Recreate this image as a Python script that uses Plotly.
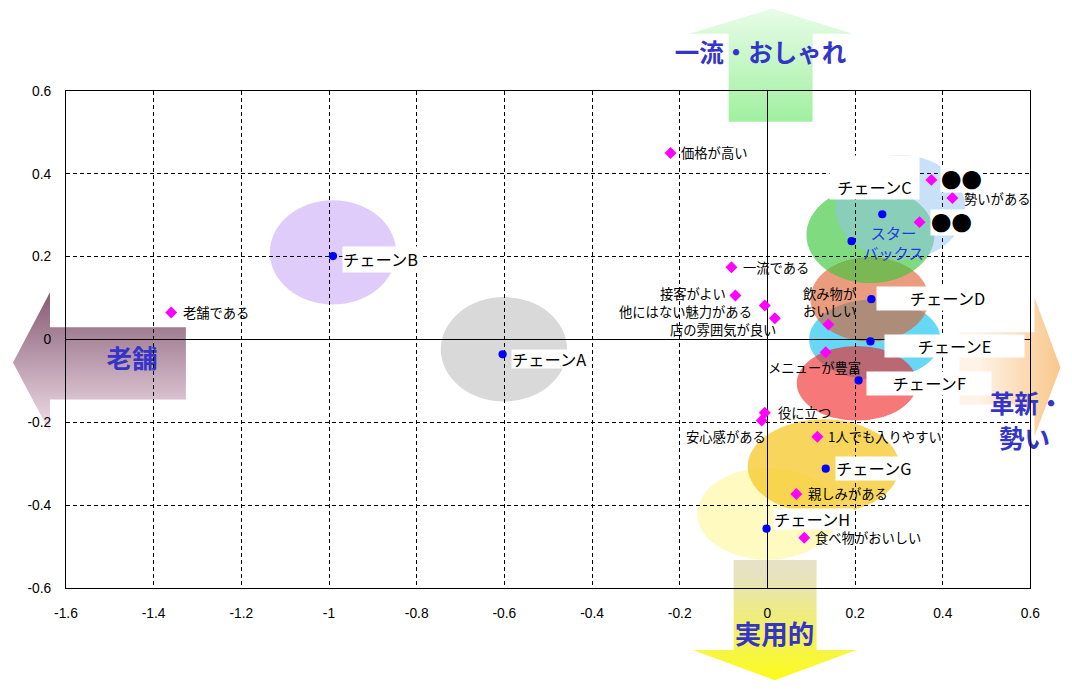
import plotly.graph_objects as go

# Picture size, and the page->picture mapping measured for this renderer:
# picture = offset + scale * page   (page body margin removed below)
IMG_W, IMG_H = 1072, 691
W, H = 1072, 691                 # figure (page) size
S_X, S_Y = 0.98, 0.976
O_X, O_Y = 12.0, 8.4
KX, KY = 1 / S_X, 1 / S_Y        # picture px -> page px for sizes

# ---------------- data ----------------
chain_names = ["チェーンA", "チェーンB", "チェーンC", "スターバックス", "チェーンD",
               "チェーンE", "チェーンF", "チェーンG", "チェーンH"]
chain_x = [-0.604, -0.991, 0.262, 0.192, 0.237, 0.235, 0.208, 0.133, -0.002]
chain_y = [-0.036, 0.201, 0.302, 0.237, 0.097, -0.005, -0.099, -0.312, -0.457]

attr_names = ["価格が高い", "老舗である", "一流である", "接客がよい", "他にはない魅力がある",
              "店の雰囲気が良い", "飲み物がおいしい", "メニューが豊富", "役に立つ", "安心感がある",
              "1人でも入りやすい", "親しみがある", "食べ物がおいしい", "勢いがある", "●●", "●●"]
attr_x = [-0.221, -1.360, -0.082, -0.073, -0.006, 0.017, 0.139, 0.133, -0.006, -0.013,
          0.114, 0.066, 0.084, 0.422, 0.374, 0.347]
attr_y = [0.450, 0.065, 0.174, 0.106, 0.082, 0.051, 0.036, -0.031, -0.177, -0.196,
          -0.235, -0.373, -0.479, 0.341, 0.385, 0.283]

# ellipse zones (drawing order)
zone_names = ["チェーンA", "チェーンB", "チェーンH", "チェーンG", "チェーンE",
              "チェーンF", "チェーンD", "スターバックス", "チェーンC"]
zone_cx = [-0.601, -0.991, 0.000, 0.128, 0.245, 0.204, 0.233, 0.235, 0.303]
zone_cy = [-0.024, 0.210, -0.421, -0.307, 0.000, -0.106, 0.097, 0.252, 0.319]
zone_rx = [0.144, 0.144, 0.160, 0.173, 0.150, 0.137, 0.135, 0.146, 0.148]
zone_ry = [0.126, 0.126, 0.111, 0.114, 0.097, 0.090, 0.102, 0.116, 0.126]

x_tick_vals = [-1.6, -1.4, -1.2, -1.0, -0.8, -0.6, -0.4, -0.2, 0.0, 0.2, 0.4, 0.6]
x_tick_text = ["-1.6", "-1.4", "-1.2", "-1", "-0.8", "-0.6", "-0.4", "-0.2", "0", "0.2", "0.4", "0.6"]
y_tick_vals = [-0.6, -0.4, -0.2, 0.0, 0.2, 0.4, 0.6]
y_tick_text = ["-0.6", "-0.4", "-0.2", "0", "0.2", "0.4", "0.6"]

dir_labels = ["一流・おしゃれ", "実用的", "老舗", "革新・", "勢い"]

# ---------------- styles ----------------
JP = "Noto Sans CJK JP"
BLUE_TXT = "#3434C8"

def fs(v):
    return round(v * KX, 1)

def page_x(t):
    return (t - O_X) / S_X

def page_y(t):
    return (t - O_Y) / S_Y

zone_style = {
    "チェーンA": ("rgb(217,217,217)", 1.0),
    "チェーンB": ("rgb(224,204,250)", 1.0),
    "チェーンH": ("rgb(255,245,130)", 0.5),
    "チェーンG": ("rgb(245,200,40)", 0.75),
    "チェーンE": ("rgb(0,190,240)", 0.6),
    "チェーンF": ("rgb(240,30,30)", 0.6),
    "チェーンD": ("rgb(222,90,40)", 0.6),
    "スターバックス": ("rgb(60,200,60)", 0.65),
    "チェーンC": ("rgb(145,193,241)", 0.5),
}

# chain label boxes (picture px): xshift, yshift, width, height, align, valign
chain_label_style = {
    "チェーンA": (8, -5, 76, 18, "left", "middle"),
    "チェーンB": (9, -3, 76, 24, "left", "middle"),
    "チェーンC": (-52, 36, 87, 42, "center", "bottom"),
    "チェーンD": (5, 1, 106, 22, "right", "middle"),
    "チェーンE": (13, -4, 136, 21, "center", "middle"),
    "チェーンF": (7, -3, 122, 22, "center", "middle"),
    "チェーンG": (9, 0, 78, 22, "left", "middle"),
    "チェーンH": (6, 9, 77, 20, "left", "middle"),
}

# attribute labels: xanchor, xshift, yshift (picture px)
attr_label_style = [
    ("left", 9, 0), ("left", 11, 0), ("left", 10, 0), ("right", -8, 2),
    ("right", -12, -6), ("right", 2, -11), ("center", 1, 22), ("center", -11, -15),
    ("left", 12, 0), ("right", 5, -16), ("left", 9, 0), ("left", 10, 0),
    ("left", 10, 0), ("left", 10, 0), ("left", 8, 0), ("left", 10, 0),
]
attr_line_break = {"飲み物がおいしい": "飲み物が<br>おいしい"}

fig = go.Figure()

# ---------------- decoration arrows (picture pixel space, subplot xy) ----------------
def arrow(pts, gtype, c0, c1, start, stop):
    xs = [p[0] for p in pts] + [pts[0][0]]
    ys = [IMG_H - p[1] for p in pts] + [IMG_H - pts[0][1]]
    return go.Scatter(x=xs, y=ys, xaxis="x", yaxis="y", mode="lines",
                      line=dict(width=0, color="rgba(0,0,0,0)"), fill="toself",
                      fillgradient=dict(type=gtype, colorscale=[[0, c0], [1, c1]],
                                        start=start, stop=stop),
                      hoverinfo="skip", showlegend=False)

# top (green)
fig.add_trace(arrow([(772, 10), (853, 35), (813, 35), (813, 123), (729, 123), (729, 35), (690, 35)],
                    "vertical", "#9EF09E", "#E8FCE8", IMG_H - 123, IMG_H - 10))
# bottom (yellow)
fig.add_trace(arrow([(734, 560), (817, 560), (817, 650), (857, 650), (775, 680), (693, 650), (734, 650)],
                    "vertical", "#FFFF00", "#E6E2C4", IMG_H - 680, IMG_H - 560))
# left (mauve)
fig.add_trace(arrow([(13, 363), (50, 293), (50, 328), (186, 328), (186, 400), (50, 400), (50, 433)],
                    "vertical", "#FAEAF4", "#8A6078", IMG_H - 433, IMG_H - 293))
# right (orange)
fig.add_trace(arrow([(960, 333), (1035, 333), (1035, 298), (1061, 368), (1035, 437), (1035, 405), (960, 405)],
                    "horizontal", "#FFF2E6", "#F7BC72", 960, 1061))

dir_pos = [(761, 57, 24), (775, 637, 26), (132, 362, 25), (1027, 407, 24), (1025, 442, 25)]
for lab, (px, py, size) in zip(dir_labels, dir_pos):
    fig.add_trace(go.Scatter(x=[px], y=[IMG_H - py], xaxis="x", yaxis="y", mode="text", text=[lab],
                             textposition="middle center",
                             textfont=dict(family=JP, size=fs(size), color=BLUE_TXT, weight="bold"),
                             hoverinfo="skip", showlegend=False))

# ---------------- data traces (subplot x2y2) ----------------
fig.add_trace(go.Scatter(x=attr_x, y=attr_y, xaxis="x2", yaxis="y2", mode="markers",
                         marker=dict(symbol="diamond", size=fs(9), color="#FF00FF"),
                         hoverinfo="skip", showlegend=False))
fig.add_trace(go.Scatter(x=chain_x, y=chain_y, xaxis="x2", yaxis="y2", mode="markers",
                         marker=dict(symbol="circle", size=fs(8), color="#0000FF"),
                         hoverinfo="skip", showlegend=False))

shapes = []
for name, cx, cy, rx, ry in zip(zone_names, zone_cx, zone_cy, zone_rx, zone_ry):
    col, op = zone_style[name]
    shapes.append(dict(type="circle", xref="x2", yref="y2", x0=cx - rx, x1=cx + rx,
                       y0=cy - ry, y1=cy + ry, fillcolor=col, opacity=op,
                       line=dict(width=0), layer="below"))

annotations = []
for name, x, y in zip(chain_names, chain_x, chain_y):
    if name in chain_label_style:
        xs, ys, w, h, al, va = chain_label_style[name]
        annotations.append(dict(x=x, y=y, xref="x2", yref="y2", text=name, showarrow=False,
                                xanchor="left", yanchor="middle", xshift=xs * KX, yshift=ys * KY,
                                width=w * KX, height=h * KY, align=al, valign=va, bgcolor="white",
                                borderpad=0, font=dict(family=JP, size=fs(16), color="black")))
    else:
        annotations.append(dict(x=x, y=y, xref="x2", yref="y2", text="スター<br>バックス",
                                showarrow=False, xanchor="center", yanchor="middle",
                                xshift=41 * KX, yshift=-1 * KY,
                                font=dict(family=JP, size=fs(15), color="#1E3CDC")))

for name, x, y, (xa, xs, ys) in zip(attr_names, attr_x, attr_y, attr_label_style):
    if name == "●●":
        annotations.append(dict(x=x, y=y, xref="x2", yref="y2", text=name, showarrow=False,
                                xanchor=xa, yanchor="middle", xshift=xs * KX, yshift=ys * KY,
                                height=24 * KY, valign="middle", bgcolor="white", borderpad=0,
                                font=dict(family=JP, size=fs(20), color="black")))
    else:
        annotations.append(dict(x=x, y=y, xref="x2", yref="y2", text=attr_line_break.get(name, name),
                                showarrow=False, xanchor=xa, yanchor="middle",
                                xshift=xs * KX, yshift=ys * KY,
                                borderpad=0, font=dict(family=JP, size=fs(13), color="black")))

ax_common = dict(showline=True, mirror=True, linecolor="black", linewidth=1,
                 showgrid=True, gridcolor="black", gridwidth=1, griddash="4px,3px",
                 zeroline=True, zerolinecolor="black", zerolinewidth=1,
                 ticks="", tickfont=dict(family="Liberation Sans, Arial", size=fs(13.5), color="black"))

# plot area in picture pixels: x 66..1031, y 92..588
fig.update_layout(
    width=W, height=H,
    margin=dict(l=0, r=0, t=0, b=0, pad=0),
    paper_bgcolor="white", plot_bgcolor="rgba(0,0,0,0)",
    showlegend=False, hovermode=False,
    xaxis=dict(domain=[0, 1], range=[O_X, O_X + S_X * W], visible=False, fixedrange=True),
    yaxis=dict(domain=[0, 1], range=[IMG_H - (O_Y + S_Y * H), IMG_H - O_Y], visible=False,
               fixedrange=True),
    xaxis2=dict(domain=[page_x(66) / W, page_x(1031) / W], range=[-1.6, 0.6], anchor="y2",
                tickvals=x_tick_vals, ticktext=x_tick_text, ticklabelstandoff=round(12 * KY),
                **ax_common),
    yaxis2=dict(domain=[1 - page_y(588) / H, 1 - page_y(92) / H], range=[-0.6, 0.6],
                anchor="x2", tickvals=y_tick_vals, ticktext=y_tick_text,
                ticklabelstandoff=round(11 * KX), **ax_common),
    shapes=shapes,
    annotations=annotations,
)

fig.write_html("out.html", config={"displayModeBar": False},
               post_script="document.body.style.margin='0';document.body.style.overflow='hidden';")
